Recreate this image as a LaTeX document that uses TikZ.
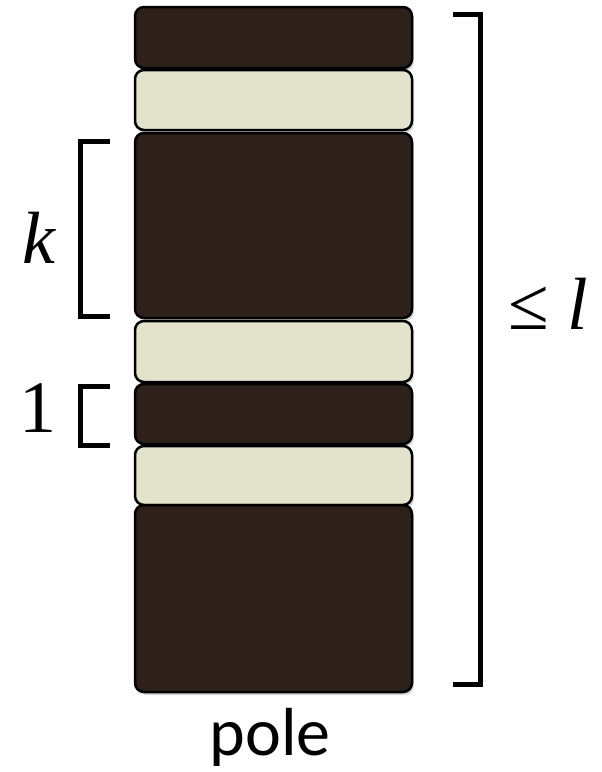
\documentclass[tikz,border=0pt]{standalone}
\usepackage{fontspec}
\newfontfamily\polefont{Carlito}
\newfontfamily\symfont{Liberation Serif}
\usepackage{tikz}
\usetikzlibrary{shadows}

\definecolor{darkwood}{RGB}{46,32,26}
\definecolor{lightwood}{RGB}{227,226,202}

\begin{document}
\begin{tikzpicture}[x=1pt, y=-1pt,
    block/.style={rectangle, draw, line width=2.5pt, rounded corners=9pt, minimum width=277pt, inner sep=0pt,
        drop shadow={shadow xshift=2pt, shadow yshift=-3pt, opacity=0.3}},
    dark/.style={block, fill=darkwood},
    light/.style={block, fill=lightwood},
    brace/.style={line width=5pt},
    lbl/.style={font=\symfont\fontsize{74}{74}\selectfont, inner sep=0pt}]
    \useasboundingbox (0,0) rectangle (602,772);
    % the pole, top to bottom
    \node[dark, minimum height=61pt] (b1) at (273.5,37.5) {};
    \node[light, minimum height=60pt] (b2) at (273.5,100) {};
    \node[dark, minimum height=185pt] (b3) at (273.5,225.5) {};
    \node[light, minimum height=61pt] (b4) at (273.5,351.5) {};
    \node[dark, minimum height=60pt] (b5) at (273.5,414) {};
    \node[light, minimum height=59pt] (b6) at (273.5,475.5) {};
    \node[dark, minimum height=187pt] (b7) at (273.5,598.5) {};
    % brackets
    \draw[brace] (110,141) -- (80,141) -- (80,316) -- (110,316);
    \draw[brace] (110,386) -- (80,386) -- (80,445) -- (110,445);
    \draw[brace] (453,14) -- (480,14) -- (480,684) -- (453,684);
    % labels
    \node[lbl] (k) at (39,238) {\itshape k};
    \node[lbl] (one) at (38,408) {1};
    \node[lbl] (len) at (548,304) {≤ \itshape l};
    \node[font=\polefont\fontsize{68}{68}\selectfont, inner sep=0pt] (pole) at (270,737) {pole};
\end{tikzpicture}
\end{document}
